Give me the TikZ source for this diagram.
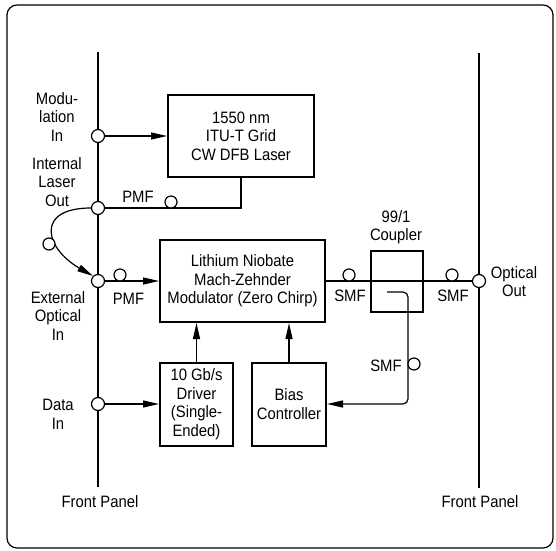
\documentclass[tikz,border=0pt]{standalone}
\usepackage{fontspec}
\setmainfont{Liberation Sans}[FakeStretch=0.9]
\usetikzlibrary{positioning}
\usetikzlibrary{arrows.meta,calc}
\tikzstyle{block}=[rectangle,draw=black,line width=2pt,inner sep=0pt,align=center]
\tikzstyle{port}=[circle,draw=black,fill=white,line width=1.2pt,minimum size=13pt,inner sep=0pt]
\tikzstyle{fiber}=[circle,draw=black,fill=white,line width=1.2pt,minimum size=12pt,inner sep=0pt]
\tikzstyle{edge} = [draw,line width=1.2pt,-{Triangle[length=16pt,width=7pt]}]
\tikzstyle{link} = [draw,line width=1.2pt]
\tikzstyle{panel} = [draw,line width=2.7pt]
\tikzstyle{lbl} = [align=center,inner sep=0pt]

\begin{document}
\begin{tikzpicture}[x=1pt,y=1pt,font=\fontsize{16.5}{18.5}\selectfont]

  \useasboundingbox (0,0) rectangle (556,550);
  \draw[line width=1.2pt, rounded corners=10pt] (7,2) rectangle (553,545);

  % front panels
  \coordinate (lpTop) at (98,498);   \coordinate (lpBot) at (98,63);
  \coordinate (rpTop) at (479,497);  \coordinate (rpBot) at (479,62);
  \draw[panel] (lpTop) -- (lpBot);
  \draw[panel] (rpTop) -- (rpBot);

  \foreach \x/\y/\w/\h/\name/\label in {241/414/146/82/laser/{1550 nm\\ITU-T Grid\\CW DFB Laser},
      242.5/269/165/82/mod/{Lithium Niobate\\Mach-Zehnder\\Modulator (Zero Chirp)},
      196.5/146/73/83/drv/{10 Gb/s\\Driver\\(Single-\\Ended)},
      289/146/74/83/bias/{Bias\\Controller}, 397/268.5/52/61/cpl/{}}
          \node[block, minimum width=\w pt, minimum height=\h pt] (\name) at (\x,\y) {\label};

  \coordinate (tap) at (387,258);
  \coordinate (tapbend) at (408,146);

  \draw[link] (mod.east) -- (479,269);
  \draw[link] (98,342) -| (laser.south);
  \draw[edge] (98,414) -- (laser.west);
  \draw[edge] (98,269) -- (mod.west);
  \draw[edge] (98,146) -- (drv.west);
  \draw[edge] (drv.north) -- (drv.north |- mod.south);
  \draw[edge] (bias.north) -- (bias.north |- mod.south);
  \draw[edge] (tap) [rounded corners=5pt] -| (tapbend) [sharp corners] -- (bias.east);

  \foreach \x/\y/\name in {98/414/modin, 98/342/lasout, 98/269/extin, 98/146/datain, 479/269/optout}
          \node[port] (\name) at (\x,\y) {};

  \draw[edge] (lasout.west) to[out=180, in=150, looseness=2.1] (extin.north west);

  \foreach \x/\y/\name in {171/348/fpmfa, 120/275/fpmfb, 349/275/fsmfa, 452/275/fsmfb, 414/186/fsmfc, 49/306/farc}
          \node[fiber] (\name) at (\x,\y) {};

  \foreach \x/\y/\name/\label in {138/353/tpmfa/PMF, 128.5/251/tpmfb/PMF, 350/254/tsmfa/SMF,
      453/254/tsmfb/SMF, 386/184/tsmfc/SMF, 396/323/tcpl/{99/1\\Coupler},
      514/268.5/toptout/{Optical\\Out}, 57/433/tmodin/{Modu-\\lation\\In},
      57/368/tlasout/{Internal\\Laser\\Out}, 58/234/textin/{External\\Optical\\In},
      58/135.5/tdatain/{Data\\In}, 100/48/tlpanel/{Front Panel}, 480/48/trpanel/{Front Panel}}
          \node[lbl] (\name) at (\x,\y) {\label};

\end{tikzpicture}
\end{document}
